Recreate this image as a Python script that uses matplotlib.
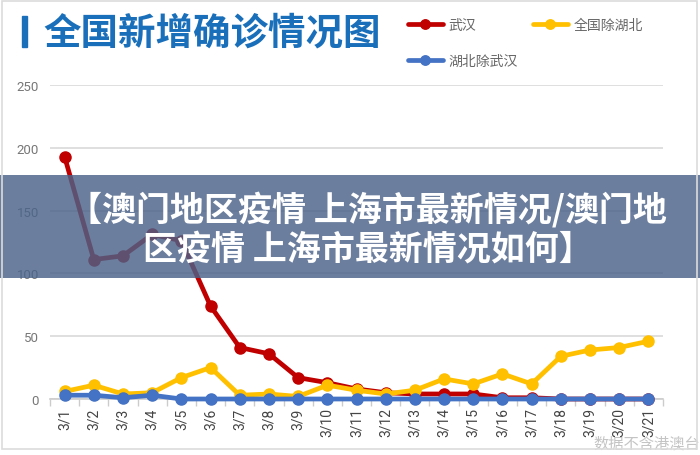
import matplotlib
matplotlib.use("Agg")
import matplotlib.pyplot as plt
from matplotlib.patches import Rectangle
from matplotlib.ticker import FixedLocator

plt.rcParams['font.family'] = ['Noto Sans CJK SC', 'DejaVu Sans']

dates = ["3/1", "3/2", "3/3", "3/4", "3/5", "3/6", "3/7", "3/8", "3/9", "3/10", "3/11",
         "3/12", "3/13", "3/14", "3/15", "3/16", "3/17", "3/18", "3/19", "3/20", "3/21"]
wuhan = [193, 111, 114, 131, 126, 74, 41, 36, 17, 13, 8, 5, 4, 4, 4, 1, 1, 0, 0, 0, 0]
nation_ex_hubei = [6, 11, 4, 5, 17, 25, 3, 4, 2, 11, 7, 4, 7, 16, 12, 20, 12, 34, 39, 41, 46]
hubei_ex_wuhan = [3, 3, 1, 3, 0, 0, 0, 0, 0, 0, 0, 0, 0, 0, 0, 0, 0, 0, 0, 0, 0]

series_names = ["武汉", "全国除湖北", "湖北除武汉"]
colors = ["#c00000", "#ffc000", "#4472c4"]
yticks = [0, 50, 100, 150, 200, 250]

title = "全国新增确诊情况图"
banner = "【澳门地区疫情 上海市最新情况/澳门地\n区疫情 上海市最新情况如何】"
note = "数据不含港澳台"

W, H = 700, 456
fig = plt.figure(figsize=(7, 4.56), dpi=100)
fig.patch.set_facecolor("white")

ax = fig.add_axes([50 / W, 1 - 400 / H, 613 / W, 314 / H])
x = list(range(len(dates)))
handles = []
for vals, c, name, z in zip([wuhan, nation_ex_hubei, hubei_ex_wuhan], colors, series_names, [3, 4, 5]):
    h, = ax.plot(x, vals, color=c, lw=3.4, marker="o", ms=8, mec=c, mfc=c,
                 clip_on=False, zorder=z, label=name, solid_capstyle="round")
    handles.append(h)

ax.set_xlim(-0.5, len(dates) - 0.5)
ax.set_ylim(0, 250)
ax.set_yticks(yticks)
ax.set_yticklabels([str(v) for v in yticks], family=["Roboto", "DejaVu Sans"], fontsize=9.5, color="#777777")
ax.set_xticks(x)
ax.set_xticklabels(dates, rotation=90, family=["Roboto", "DejaVu Sans"], fontsize=10, color="#444444")
ax.xaxis.set_minor_locator(FixedLocator([i - 0.5 for i in range(len(dates) + 1)]))
ax.tick_params(axis="y", length=0, pad=8)
ax.tick_params(axis="x", which="major", length=0, pad=6)
ax.tick_params(axis="x", which="minor", length=5, color="#cccccc", width=1)
ax.grid(axis="y", color="#d9d9d9", lw=1.2)
ax.set_axisbelow(True)
for s in ["top", "right", "left"]:
    ax.spines[s].set_visible(False)
ax.spines["bottom"].set_color("#cccccc")
ax.spines["bottom"].set_linewidth(1.2)

# Title
fig.patches.append(Rectangle((22 / W, 1 - 48 / H), 5 / W, 31 / H, transform=fig.transFigure,
                             color="#1a6fba", zorder=5))
fig.text(43 / W, 1 - 33 / H, title, fontsize=27, fontweight="bold", color="#1a6fba",
         va="center", ha="left")

# Legend (column-major fill: col1 = 武汉, 湖北除武汉; col2 = 全国除湖北)
fig.legend(handles=[handles[0], handles[2], handles[1]], loc="upper left",
           bbox_to_anchor=(408 / W, 1 - 19 / H), ncol=2,
           frameon=False, fontsize=10, labelcolor="#666666", handlelength=2.5,
           handletextpad=0.4, columnspacing=1.1, labelspacing=1.55, borderpad=0,
           borderaxespad=0, markerscale=0.85)

# Banner overlay
fig.patches.append(Rectangle((0, 1 - 279 / H), 1, 103 / H, transform=fig.transFigure,
                             facecolor="#4a6289", alpha=0.82, zorder=20, lw=0))
fig.text(0.525, 1 - 229 / H, banner, fontsize=24.5, fontweight="heavy", color="white",
         ha="center", va="center", linespacing=1.15, zorder=21)

# Note
fig.text(593 / W, 1 - 444 / H, note, fontsize=11, color="#c4c4c4", ha="left", va="center")

# Frame
fig.patches.append(Rectangle((2 / W, 1 - 450 / H), 695 / W, 448 / H, transform=fig.transFigure,
                             facecolor="none", edgecolor="#dcdcdc", lw=1.2, zorder=30))

fig.savefig("out.png", dpi=100, facecolor="white")
